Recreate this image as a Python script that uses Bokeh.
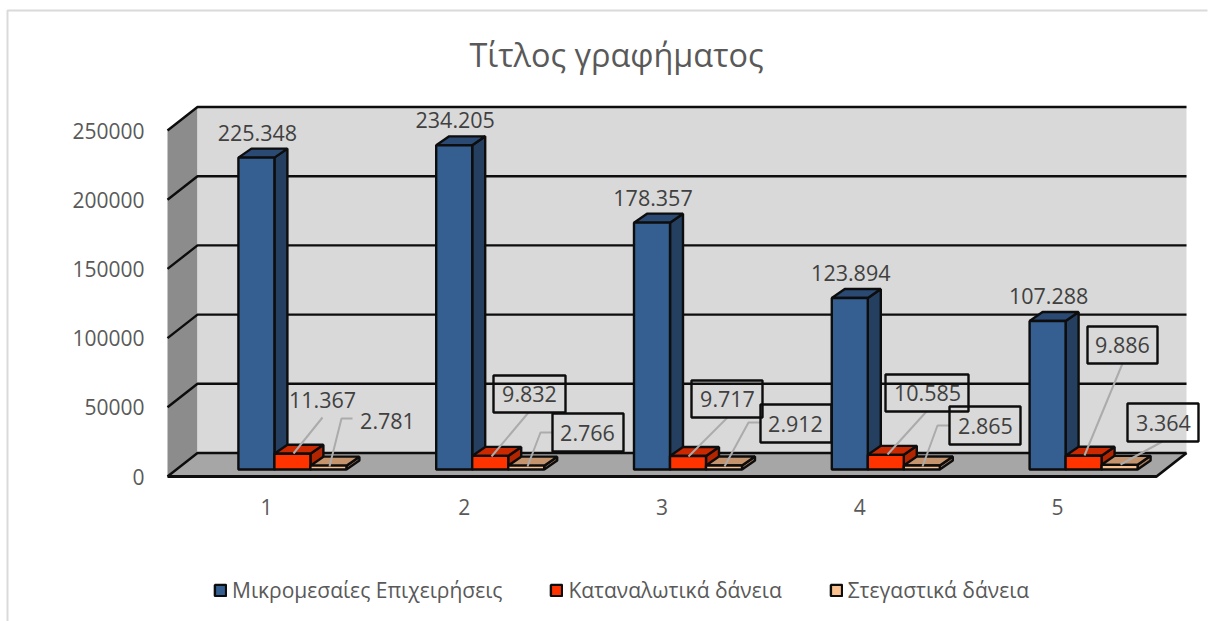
from bokeh.plotting import figure
from bokeh.models import Range1d, FixedTicker, Legend, LegendItem, Label, NumeralTickFormatter
from bokeh.core.properties import value
from bokeh.embed import file_html
from bokeh.resources import INLINE

# ---------- data ----------
categories = [1, 2, 3, 4, 5]
series_names = ["Μικρομεσαίες Επιχειρήσεις", "Καταναλωτικά δάνεια", "Στεγαστικά δάνεια"]
sme_loans = [225348, 234205, 178357, 123894, 107288]
consumer_loans = [11367, 9832, 9717, 10585, 9886]
housing_loans = [2781, 2766, 2912, 2865, 3364]
y_ticks = [0, 50000, 100000, 150000, 200000, 250000]
chart_title = "Τίτλος γραφήματος"

# ---------- layout: page pixels <-> data ----------
FONT = "Open Sans"
PX_PER_CAT = 197.8
PX_PER_VAL = 69.2 / 50000
AX_PX_X, AX_PX_Y = 167, 476          # page position of category edge 0.5 / value 0
W, H = 1214, 621


def dx(px):
    return px / PX_PER_CAT


def dy(px):
    return px / PX_PER_VAL


def X(px):
    return 0.5 + dx(px - AX_PX_X)


def Y(py):
    return dy(AX_PX_Y - py)


p = figure(width=W, height=H, output_backend="svg", toolbar_location=None,
           x_range=Range1d(X(0), X(W)), y_range=Range1d(Y(H), Y(0)),
           min_border=0, background_fill_color="white", border_fill_color="white")
p.outline_line_color = None
p.grid.visible = False

# axes, fixed on the front edge of the 3D box
p.yaxis.ticker = FixedTicker(ticks=y_ticks)
p.yaxis.formatter = NumeralTickFormatter(format="0")
p.xaxis.ticker = FixedTicker(ticks=categories)
p.yaxis.fixed_location = X(167)
p.xaxis.fixed_location = 0
for ax in (p.xaxis[0], p.yaxis[0]):
    ax.axis_line_color = None
    ax.major_tick_line_color = None
    ax.minor_tick_line_color = None
    ax.major_label_text_font = FONT
    ax.major_label_text_font_size = "21px"
    ax.major_label_text_color = "#595959"
p.yaxis.major_label_standoff = 17
p.xaxis.major_label_standoff = 16

# title
p.add_layout(Label(x=X(616), y=Y(53), text=chart_title, text_font=FONT, text_font_size="32.4px",
                   text_color="#595959", text_align="center", text_baseline="middle"))

# chart-area border
p.line([X(7), X(7), X(1207)], [Y(H), Y(10), Y(10)], line_color="#DADADA", line_width=2)

# 3D box: side wall, back wall, floor
DEPTH_X, DEPTH_Y = 30, 23.5
wall_top = 250000
fl_l, fl_r = X(167), X(1156)
p.patch([fl_l, fl_l + dx(DEPTH_X), fl_l + dx(DEPTH_X), fl_l],
        [0, dy(DEPTH_Y), wall_top + dy(DEPTH_Y), wall_top], fill_color="#8C8C8C", line_color=None)
p.patch([fl_l + dx(DEPTH_X), fl_r + dx(DEPTH_X), fl_r + dx(DEPTH_X), fl_l + dx(DEPTH_X)],
        [dy(DEPTH_Y), dy(DEPTH_Y), wall_top + dy(DEPTH_Y), wall_top + dy(DEPTH_Y)],
        fill_color="#D9D9D9", line_color=None)
p.patch([fl_l, fl_l + dx(DEPTH_X), fl_r + dx(DEPTH_X), fl_r],
        [0, dy(DEPTH_Y), dy(DEPTH_Y), 0], fill_color="#A6A6A6", line_color=None)
grid_xs = [[fl_l, fl_l + dx(DEPTH_X), fl_r + dx(DEPTH_X)] for _ in y_ticks]
grid_ys = [[t, t + dy(DEPTH_Y), t + dy(DEPTH_Y)] for t in y_ticks]
p.multi_line(grid_xs, grid_ys, line_color="#0D0D0D", line_width=2.4)
p.line([fl_l, fl_r, fl_r + dx(DEPTH_X)], [0, 0, dy(DEPTH_Y)], line_color="#0D0D0D", line_width=2.8)

# bars
BAR_W, BAR_START, BAR_DX, BAR_DY, BAR_FRONT = 36, -28, 13, 9, 7
styles = [("#365F91", "#2A4A73", "#243F60"),
          ("#FF3300", "#CC2900", "#B32400"),
          ("#F9C090", "#C6946C", "#A87C5B")]
series_vals = [sme_loans, consumer_loans, housing_loans]
legend_items = []
for s, (vals, (front, top, side)) in enumerate(zip(series_vals, styles)):
    lefts = [c + dx(BAR_START + s * BAR_W) for c in categories]
    rights = [l + dx(BAR_W) for l in lefts]
    base = dy(BAR_FRONT)
    tops = [v + base for v in vals]
    side_xs = [[r, r + dx(BAR_DX), r + dx(BAR_DX), r] for r in rights]
    side_ys = [[base, base + dy(BAR_DY), t + dy(BAR_DY), t] for t in tops]
    top_xs = [[l, l + dx(BAR_DX), r + dx(BAR_DX), r] for l, r in zip(lefts, rights)]
    top_ys = [[t, t + dy(BAR_DY), t + dy(BAR_DY), t] for t in tops]
    p.patches(side_xs, side_ys, fill_color=side, line_color="#0D0D0D", line_width=2.4)
    p.patches(top_xs, top_ys, fill_color=top, line_color="#0D0D0D", line_width=2.4)
    r = p.quad(left=lefts, right=rights, bottom=[base] * 5, top=tops,
               fill_color=front, line_color="#0D0D0D", line_width=2.4)
    legend_items.append(LegendItem(label=series_names[s], renderers=[r]))


def fmt(v):
    return f"{v:,}".replace(",", ".")


TXT = dict(text_font=value(FONT), text_font_size="21.5px", text_color="#404040",
           text_align="center", text_baseline="middle")

# labels above the tall bars
p.text([c + dx(-9) for c in categories], [v + dy(BAR_FRONT + 25) for v in sme_loans],
       text=[fmt(v) for v in sme_loans], **TXT)

# call-out labels: text centre, box and leader path in page pixels
red_centres = [(322, 399), (529, 393), (727, 398), (927, 392), (1122, 344)]
red_box = [None, (493, 565, 375, 412), (691, 762, 380, 417), (885, 968, 374, 411), (1087, 1157, 326, 363)]
red_leads = [[(293, 453), (322, 417)], [(491, 456), (528, 412)], [(688, 456), (727, 417)],
             [(887, 454), (926, 411)], [(1084, 455), (1122, 363)]]
peach_centres = [(387, 420), (587, 432), (795, 423), (985, 425), (1163, 422)]
peach_box = [None, (552, 623, 413, 451), (760, 831, 404, 442), (949, 1020, 406, 444), (1127, 1198, 403, 441)]
peach_leads = [[(329, 466), (341, 418), (352, 418)], [(527, 466), (540, 432), (552, 432)],
               [(724, 466), (748, 422), (760, 422)], [(922, 466), (937, 425), (949, 425)],
               [(1120, 464), (1162, 441)]]

leads = red_leads + peach_leads
p.multi_line([[X(a) for a, _ in l] for l in leads], [[Y(b) for _, b in l] for l in leads],
             line_color="#ABABAB", line_width=2)
boxes = [b for b in red_box + peach_box if b]
p.quad(left=[X(b[0]) for b in boxes], right=[X(b[1]) for b in boxes],
       top=[Y(b[2]) for b in boxes], bottom=[Y(b[3]) for b in boxes],
       fill_color=None, line_color="#0D0D0D", line_width=2.4)
p.text([X(a) for a, _ in red_centres], [Y(b) for _, b in red_centres],
       text=[fmt(v) for v in consumer_loans], **TXT)
p.text([X(a) for a, _ in peach_centres], [Y(b) for _, b in peach_centres],
       text=[fmt(v) for v in housing_loans], **TXT)

# legend
legend = Legend(items=legend_items, orientation="horizontal", location=(213, 17),
                label_text_font=FONT, label_text_font_size="21px", label_text_color="#595959",
                glyph_width=14, glyph_height=14, spacing=47, label_standoff=5,
                padding=0, margin=0, border_line_color=None, background_fill_color=None)
p.add_layout(legend)

open("out.html", "w").write(file_html(p, INLINE))
